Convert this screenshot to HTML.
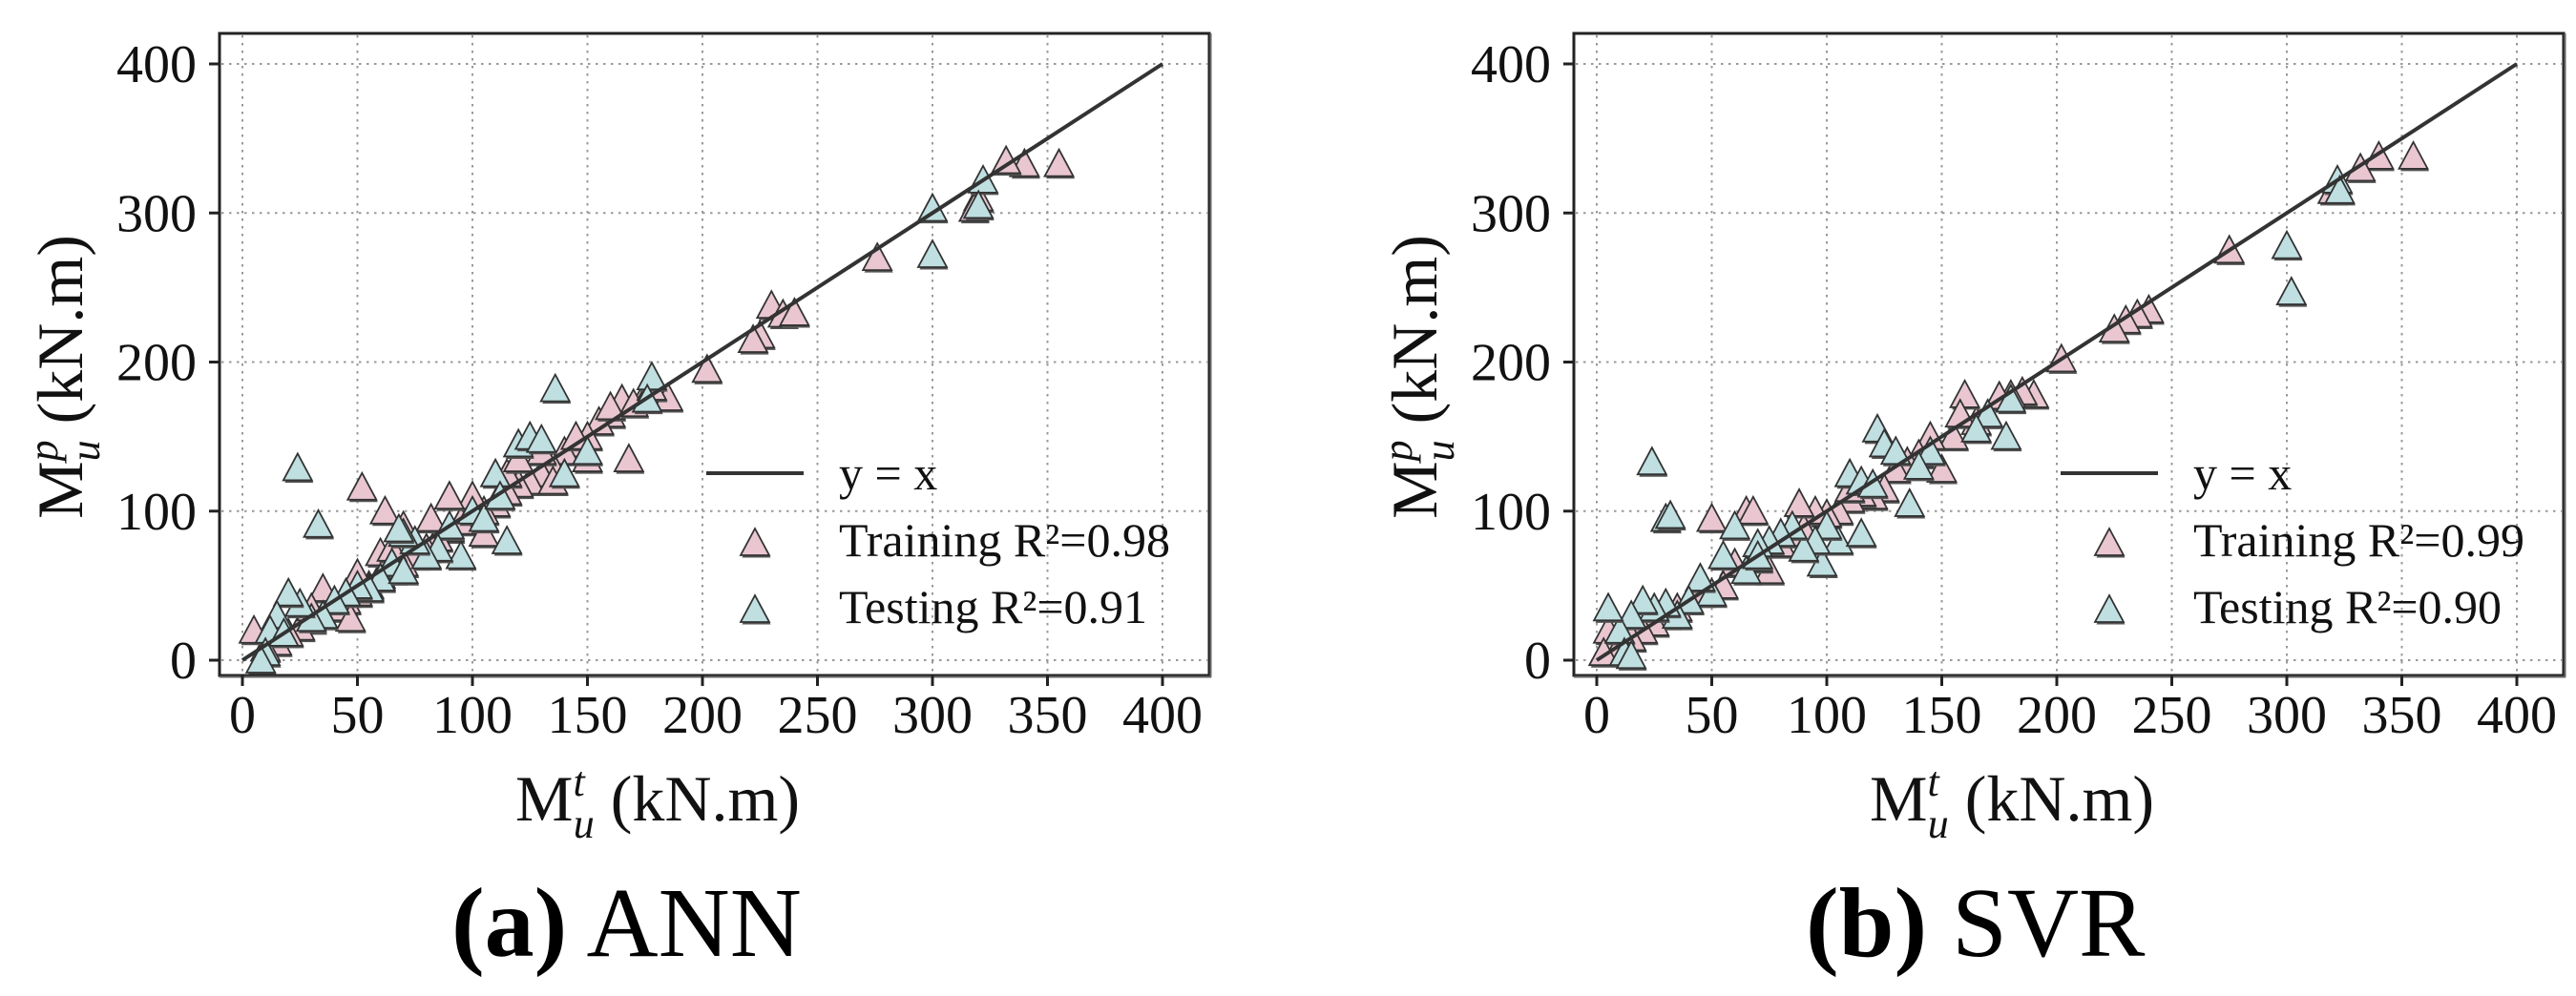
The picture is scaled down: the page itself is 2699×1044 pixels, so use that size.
<!DOCTYPE html>
<html><head><meta charset="utf-8"><style>
html,body{margin:0;padding:0;background:#fff;}
svg{display:block;font-family:"Liberation Serif",serif;}
</style></head><body>
<svg id="fig" width="2699" height="1044" viewBox="0 0 2699 1044" xmlns="http://www.w3.org/2000/svg"></svg>
<script>
const tickValues=[0,50,100,150,200,250,300,350,400];
const yTickValues=[0,100,200,300,400];
const annTrainX=[355,340,332,320,318,276,230,235,240,225,222,202,168,175,180,185,165,160,155,150,145,140,135,130,125,120,115,110,105,100,95,90,85,80,75,70,65,60,55,50,45,40,35,30,25,20,15,10,5,52,47,145,150,130,115,100,90,70,60,82,62,105,120,135,160,170,178,65,50,35,30];
const annTrainY=[333,333,335,310,303,270,238,232,233,218,215,195,135,178,178,176,175,165,160,150,145,140,130,125,120,118,113,105,100,98,93,88,82,75,70,65,60,57,50,45,40,35,30,27,22,18,12,8,20,116,28,150,135,140,125,110,110,90,72,95,100,85,135,120,170,172,183,75,58,48,35];
const annTestX=[24,33,300,300,322,320,178,136,176,120,125,130,110,100,95,115,105,90,85,80,75,70,65,60,55,50,45,40,35,30,25,20,15,12,10,8,18,70,68,112,140,150];
const annTestY=[129,91,303,272,322,305,190,182,175,145,150,148,125,100,70,80,95,90,75,70,80,85,65,55,48,50,45,40,30,28,38,45,30,20,5,0,18,60,88,110,125,140];
const svrTrainX=[355,340,332,320,275,240,235,230,225,202,190,185,180,175,170,165,160,155,150,145,140,135,130,125,120,115,110,105,100,95,90,85,80,75,70,65,60,55,50,45,40,35,30,25,20,15,10,5,3,68,88,110,158];
const svrTrainY=[338,338,330,315,275,235,232,228,222,202,178,180,178,177,165,160,178,150,128,150,138,133,128,115,110,112,108,100,98,100,88,85,78,60,68,100,65,50,95,45,40,35,30,25,20,15,10,20,5,100,105,115,165];
const svrTestX=[24,30,32,300,302,322,323,178,122,136,98,110,115,125,130,105,115,100,95,90,85,80,75,70,65,60,55,50,45,40,35,30,25,20,15,10,5,12,15,70,145,140,170,180,120,165];
const svrTestY=[133,95,97,278,247,322,315,150,155,105,65,125,120,145,140,80,85,90,80,75,90,85,80,78,60,90,70,45,55,40,30,38,35,40,30,20,35,5,3,70,140,130,165,175,118,155];

const NS="http://www.w3.org/2000/svg";
const svg=document.getElementById('fig');
function mk(tag,attrs,parent){const e=document.createElementNS(NS,tag);for(const k in attrs)e.setAttribute(k,attrs[k]);(parent||svg).appendChild(e);return e;}

function panel(off,name,trX,trY,teX,teY,r2tr,r2te,capBold,capReg){
  const g=mk('g',{});
  
  
  const L=230+off,R=1267+off,T=35,B=708;
  const sx=v=>254+off+v*2.41;
  const sy=v=>692-v*1.5625;
  mk('rect',{x:L,y:T,width:R-L,height:B-T,fill:'#fff'},g);
  // grid
  tickValues.forEach(v=>{const l=mk('line',{x1:sx(v),x2:sx(v),y1:T+2,y2:B-2,stroke:'#999','stroke-width':2,'stroke-dasharray':'2.5,5.5'},g);
    });
  yTickValues.forEach(v=>{const l=mk('line',{x1:L+2,x2:R-2,y1:sy(v),y2:sy(v),stroke:'#999','stroke-width':2,'stroke-dasharray':'2.5,5.5'},g);
    });
  function tri(cx,cy,fill,parent,nm){
    const p=`${cx-15},${cy+13} ${cx+15},${cy+13} ${cx},${cy-15}`;
    mk('polygon',{points:p,fill:'#555',transform:'translate(1.5,2.5)'},parent);
    const t=mk('polygon',{points:p,fill:fill,stroke:'#333','stroke-width':1.8,'stroke-linejoin':'miter'},parent);
    
  }
  const gt=mk('g',{},g);
  trX.forEach((x,i)=>tri(sx(x),sy(trY[i]),'#e9c6d0',gt,'training-point'));
  const gs=mk('g',{},g);
  teX.forEach((x,i)=>tri(sx(x),sy(teY[i]),'#bfdfe1',gs,'testing-point'));
  const ln=mk('line',{x1:sx(0),y1:sy(0),x2:sx(400),y2:sy(400),stroke:'#333','stroke-width':4},g);
  
  // frame
  mk('rect',{x:L,y:T,width:R-L,height:B-T,fill:'none',stroke:'#222','stroke-width':3},g);
  mk('line',{x1:L,y1:B+1.5,x2:R+2,y2:B+1.5,stroke:'#666','stroke-width':2},g);
  mk('line',{x1:R+1.5,y1:T,x2:R+1.5,y2:B+2,stroke:'#666','stroke-width':2},g);
  tickValues.forEach(v=>{mk('line',{x1:sx(v),x2:sx(v),y1:B,y2:B+11,stroke:'#222','stroke-width':3},g);
    const t=mk('text',{x:sx(v),y:768,'font-size':56,'text-anchor':'middle',fill:'#111'},g);t.textContent=v;
    });
  yTickValues.forEach(v=>{mk('line',{x1:L-11,x2:L,y1:sy(v),y2:sy(v),stroke:'#222','stroke-width':3},g);
    const t=mk('text',{x:L-24,y:sy(v)+19,'font-size':56,'text-anchor':'end',fill:'#111'},g);t.textContent=v;
    });
  // legend
  const lg=mk('g',{},g);
  mk('line',{x1:740+off,x2:842+off,y1:496,y2:496,stroke:'#333','stroke-width':4},lg);
  const t1=mk('text',{x:879+off,y:513,'font-size':50,fill:'#111'},lg);t1.textContent='y = x';
  tri(791+off,569,'#e9c6d0',lg,'legend-training-marker');
  const t2=mk('text',{x:879+off,y:583,'font-size':50,fill:'#111'},lg);t2.textContent='Training R²='+r2tr;
  tri(791+off,639,'#bfdfe1',lg,'legend-testing-marker');
  const t3=mk('text',{x:879+off,y:653,'font-size':50,fill:'#111'},lg);t3.textContent='Testing R²='+r2te;
  // axis titles
  const xt=mk('text',{x:540+off,y:860,'font-size':68,fill:'#111'},g);
  
  xt.innerHTML='M<tspan font-size="44" font-style="italic" dy="-26">t</tspan><tspan font-size="44" font-style="italic" dx="-12" dy="44">u</tspan><tspan dy="-18"> (kN.m)</tspan>';
  const yt=mk('text',{x:0,y:0,'font-size':68,fill:'#111','text-anchor':'middle',transform:`translate(${86+off},395) rotate(-90)`},g);
  
  yt.innerHTML='M<tspan font-size="44" font-style="italic" dy="-26">p</tspan><tspan font-size="44" font-style="italic" dx="-22" dy="44">u</tspan><tspan dy="-18"> (kN.m)</tspan>';
  const cap=mk('text',{x:473+off,y:1002,'font-size':104,fill:'#000'},g);
  
  cap.innerHTML='<tspan font-weight="bold">'+capBold+'</tspan> '+capReg;
}
panel(0,'ann',annTrainX,annTrainY,annTestX,annTestY,'0.98','0.91','(a)','ANN');
panel(1419,'svr',svrTrainX,svrTrainY,svrTestX,svrTestY,'0.99','0.90','(b)','SVR');
</script>
</body></html>
